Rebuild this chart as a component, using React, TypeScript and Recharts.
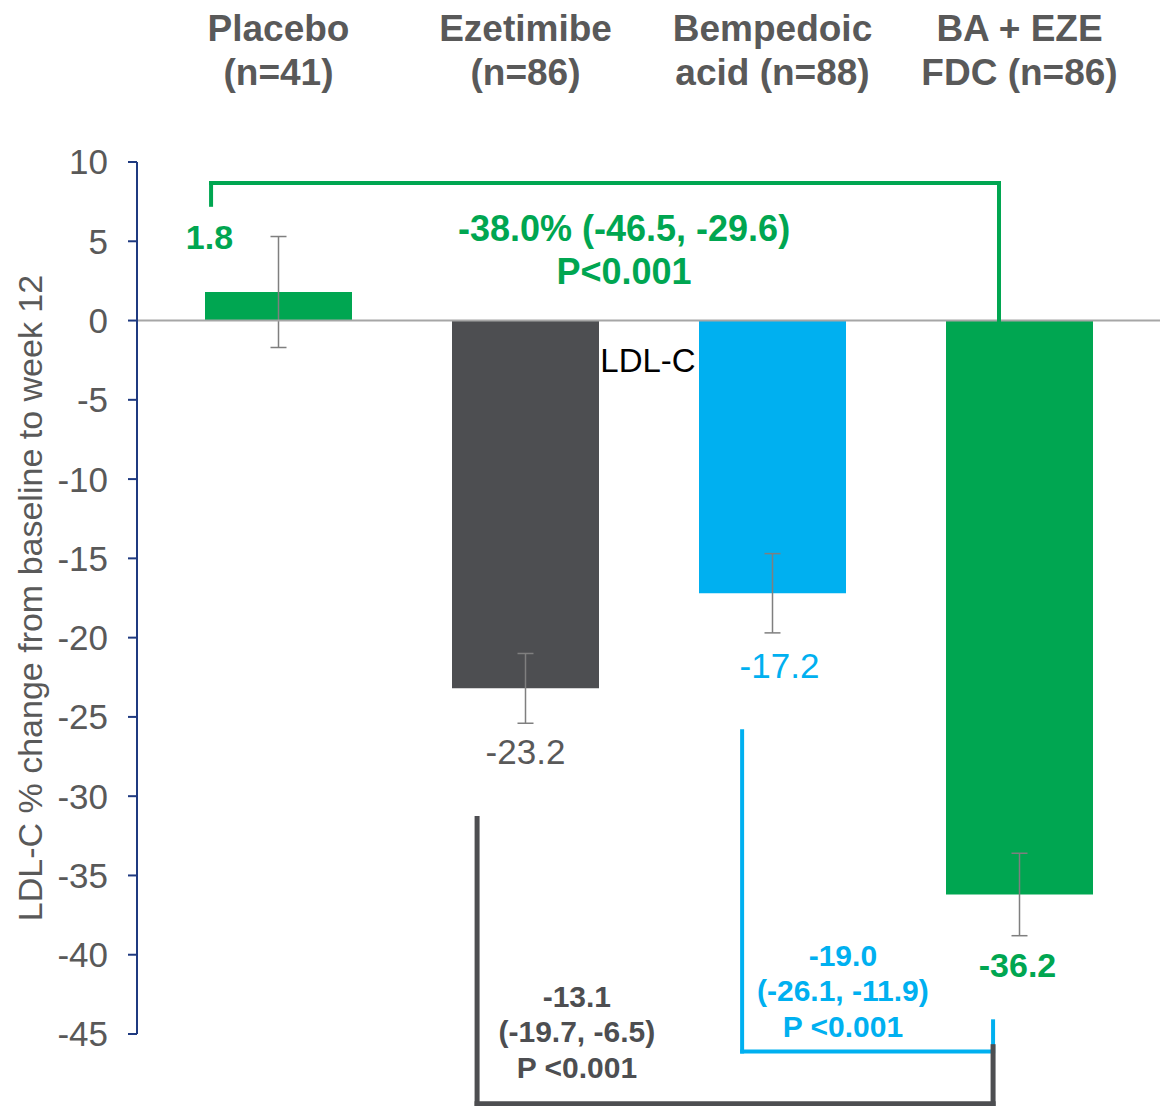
import React from "react";
import {
	Bar,
	BarChart,
	Cell,
	ErrorBar,
	Label,
	ReferenceDot,
	ReferenceLine,
	XAxis,
	YAxis,
} from "recharts";

const categories = ["Placebo", "Ezetimibe", "Bempedoic acid", "BA + EZE FDC"];
const headerLines = [
	["Placebo", "(n=41)"],
	["Ezetimibe", "(n=86)"],
	["Bempedoic", "acid (n=88)"],
	["BA + EZE", "FDC (n=86)"],
];
const meanChange = [1.8, -23.2, -17.2, -36.2];
const errorHalf = [3.5, 2.2, 2.5, 2.6];
const yTicks = [10, 5, 0, -5, -10, -15, -20, -25, -30, -35, -40, -45];

const fdcVsPlacebo = ["-38.0% (-46.5, -29.6)", "P<0.001"];
const fdcVsBempedoic = ["-19.0", "(-26.1, -11.9)", "P <0.001"];
const fdcVsEzetimibe = ["-13.1", "(-19.7, -6.5)", "P <0.001"];

const GREEN = "#00A651";
const BLUE = "#00B0F0";
const DARK = "#4D4E51";
const TEXT = "#595959";
const NAVY = "#1F3A80";
const FONT = '"Liberation Sans", Arial, sans-serif';

const barColors = [GREEN, DARK, BLUE, GREEN];
const valueColors = [GREEN, TEXT, BLUE, GREEN];
const valueBold = [true, false, false, true];

const data = categories.map((name, i) => ({
	name,
	mean: meanChange[i],
	err: errorHalf[i],
}));

const WIDTH = 1160;
const HEIGHT = 1106;
const Y_AXIS_W = 137;
const PAD = { left: 18, right: 17 };
const BAND = (WIDTH - Y_AXIS_W - PAD.left - PAD.right) / categories.length;

// brackets: leg at category `from` (shifted by a fraction of a band) over to
// category `to`; ys = [start of left leg, horizontal run, end of right leg]
const brackets = [
	{ from: 0, fromDx: -0.273, to: 3, toDx: -0.083, ys: [7.3, 8.67, 0], color: GREEN, width: 4 },
	{ from: 2, fromDx: -0.123, to: 3, toDx: -0.107, ys: [-25.9, -46.1, -44.2], color: BLUE, width: 4 },
	{ from: 1, fromDx: -0.196, to: 3, toDx: -0.107, ys: [-31.4, -49.4, -45.8], color: DARK, width: 5 },
];

const segShape = (dx1: number, dx2: number, color: string, w: number) => (p: any) => (
	<line
		x1={p.x1 + dx1 * BAND}
		y1={p.y1}
		x2={p.x2 + dx2 * BAND}
		y2={p.y2}
		stroke={color}
		strokeWidth={w}
		strokeLinecap="square"
	/>
);

const textShape =
	(lines: string[], color: string, size: number, bold: boolean, gap = 0, dx = 0, dy = 0) =>
	(p: any) => (
		<text
			x={p.cx + dx}
			y={p.cy + dy}
			textAnchor="middle"
			dominantBaseline="central"
			fill={color}
			fontSize={size}
			fontWeight={bold ? "bold" : "normal"}
			fontFamily={FONT}
		>
			{lines.map((l, i) => (
				<tspan key={i} x={p.cx + dx} dy={i === 0 ? 0 : gap}>
					{l}
				</tspan>
			))}
		</text>
	);

const HeaderTick = (props: any) => {
	const { x, payload } = props;
	const lines = headerLines[categories.indexOf(payload.value)] || [payload.value];
	return (
		<text textAnchor="middle" fill={TEXT} fontSize={37} fontWeight="bold" fontFamily={FONT}>
			<tspan x={x} y={41}>
				{lines[0]}
			</tspan>
			<tspan x={x} y={85}>
				{lines[1]}
			</tspan>
		</text>
	);
};

const YTitle = (props: any) => {
	const { x, y, height } = props.viewBox;
	const cx = x + 30;
	const cy = y + height / 2;
	return (
		<text
			x={cx}
			y={cy}
			transform={`rotate(-90, ${cx}, ${cy})`}
			textAnchor="middle"
			dominantBaseline="central"
			fill={TEXT}
			fontSize={34}
			fontFamily={FONT}
		>
			LDL-C % change from baseline to week 12
		</text>
	);
};

// where each value label sits relative to its error bar end (px)
const valueOffsets: [number, number][] = [
	[-69, 0],
	[0, 28],
	[7, 32],
	[-2, 29],
];

// comparison texts: anchor category, band-fraction shift, first-line value
const comparisons = [
	{ lines: fdcVsPlacebo, cat: 1, dx: 0.399, y: 5.84, color: GREEN, size: 36, gap: 43 },
	{ lines: fdcVsBempedoic, cat: 2, dx: 0.285, y: -40.0, color: BLUE, size: 30, gap: 35.5 },
	{ lines: fdcVsEzetimibe, cat: 1, dx: 0.208, y: -42.6, color: DARK, size: 30, gap: 35.5 },
];

export default function App() {
	return (
		<div style={{ position: "absolute", left: 0, top: 0 }}>
			<BarChart
				width={WIDTH}
				height={HEIGHT}
				data={data}
				margin={{ top: 0, right: 0, bottom: 72, left: 0 }}
			>
				<XAxis
					dataKey="name"
					orientation="top"
					height={162}
					axisLine={false}
					tickLine={false}
					padding={PAD}
					tick={<HeaderTick />}
					interval={0}
				/>
				<YAxis
					type="number"
					domain={[-45, 10]}
					ticks={yTicks}
					interval={0}
					width={Y_AXIS_W}
					axisLine={{ stroke: NAVY, strokeWidth: 2 }}
					tickLine={{ stroke: NAVY, strokeWidth: 2 }}
					tickSize={9}
					tickMargin={20}
					tick={{ fill: TEXT, fontSize: 35, fontFamily: FONT }}
				>
					<Label content={<YTitle />} />
				</YAxis>
				<Bar dataKey="mean" barSize={147} isAnimationActive={false}>
					{data.map((d, i) => (
						<Cell key={d.name} fill={barColors[i]} />
					))}
					<ErrorBar
						dataKey="err"
						width={8}
						stroke="#7F7F7F"
						strokeWidth={1.5}
						direction="y"
						isAnimationActive={false}
					/>
				</Bar>
				<ReferenceLine y={0} stroke="#A6A6A6" strokeWidth={2} />
				{brackets.flatMap((b, bi) => {
					const [y0, y1, y2] = b.ys;
					const segs: [number, number, number, number, number, number][] = [
						[b.from, b.fromDx, y0, b.from, b.fromDx, y1],
						[b.from, b.fromDx, y1, b.to, b.toDx, y1],
						[b.to, b.toDx, y1, b.to, b.toDx, y2],
					];
					return segs.map(([c1, d1, ya, c2, d2, yb], si) => (
						<ReferenceLine
							key={`${bi}-${si}`}
							segment={[
								{ x: categories[c1], y: ya },
								{ x: categories[c2], y: yb },
							]}
							ifOverflow="visible"
							shape={segShape(d1, d2, b.color, b.width)}
						/>
					));
				})}
				{data.map((d, i) => (
					<ReferenceDot
						key={`v-${d.name}`}
						x={d.name}
						y={i === 0 ? d.mean + d.err : d.mean - d.err}
						r={0}
						ifOverflow="visible"
						shape={textShape(
							[d.mean.toFixed(1)],
							valueColors[i],
							valueBold[i] ? 34 : 35,
							valueBold[i],
							0,
							valueOffsets[i][0],
							valueOffsets[i][1]
						)}
					/>
				))}
				<ReferenceDot
					x={categories[1]}
					y={-2.5}
					r={0}
					ifOverflow="visible"
					shape={textShape(["LDL-C"], "#000000", 33, false, 0, 0.496 * BAND)}
				/>
				{comparisons.map((c, i) => (
					<ReferenceDot
						key={`c-${i}`}
						x={categories[c.cat]}
						y={c.y}
						r={0}
						ifOverflow="visible"
						shape={textShape(c.lines, c.color, c.size, true, c.gap, c.dx * BAND)}
					/>
				))}
			</BarChart>
		</div>
	);
}
